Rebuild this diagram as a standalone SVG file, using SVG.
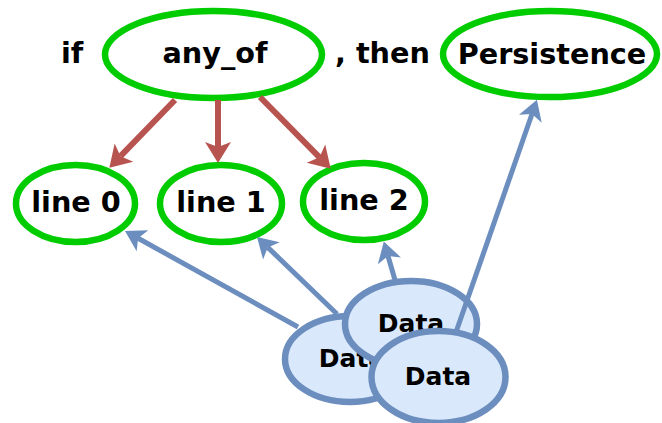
<svg xmlns="http://www.w3.org/2000/svg" width="662" height="423" viewBox="0 0 662 423">
  <style>
    .t { font-family: "DejaVu Sans", Verdana, sans-serif; font-weight: bold; fill: #000; }
    .big { font-size: 28.7px; }
    .sm { font-size: 25px; }
    .g { fill: #ffffff; stroke: #00cc00; stroke-width: 6.5; }
    .d { fill: #dae8fc; stroke: #6c8ebf; stroke-width: 6.5; }
    .red { fill: none; stroke: #b85450; stroke-width: 6; marker-end: url(#ahRed); }
    .blue { fill: none; stroke: #6c8ebf; stroke-width: 5; marker-end: url(#ahBlue); }
  </style>
  <defs>
    <marker id="ahRed" markerUnits="userSpaceOnUse" markerWidth="26" markerHeight="28" viewBox="0 -14 24 28" refX="5" refY="0" orient="auto">
      <path d="M0,-13 L21,0 L0,13 L5,0 Z" fill="#b85450"/>
    </marker>
    <marker id="ahBlue" markerUnits="userSpaceOnUse" markerWidth="26" markerHeight="28" viewBox="0 -14 24 28" refX="5" refY="0" orient="auto">
      <path d="M0,-12 L20,0 L0,12 L5,0 Z" fill="#6c8ebf"/>
    </marker>
  </defs>

  <rect width="662" height="423" fill="#ffffff"/>

  <text class="t big" x="61" y="63">if</text>
  <text class="t big" x="335" y="63">, then</text>

  <g id="any_of">
    <ellipse class="g" cx="213.5" cy="54.5" rx="108.5" ry="43.5"/>
    <text class="t big" x="215" y="63" text-anchor="middle">any_of</text>
  </g>
  <g id="persistence">
    <ellipse class="g" cx="550" cy="54" rx="107" ry="43"/>
    <text class="t big" x="552" y="64" text-anchor="middle">Persistence</text>
  </g>
  <g id="line0">
    <ellipse class="g" cx="75.5" cy="203.5" rx="59.5" ry="38.5"/>
    <text class="t big" x="76" y="212" text-anchor="middle">line 0</text>
  </g>
  <g id="line1">
    <ellipse class="g" cx="221" cy="203.5" rx="61" ry="38.5"/>
    <text class="t big" x="221" y="212" text-anchor="middle">line 1</text>
  </g>
  <g id="line2">
    <ellipse class="g" cx="364" cy="201.5" rx="61" ry="38.5"/>
    <text class="t big" x="364" y="210" text-anchor="middle">line 2</text>
  </g>

  <g id="data_left">
    <ellipse class="d" cx="350" cy="359" rx="65" ry="43"/>
    <text class="t sm" x="352" y="367" text-anchor="middle">Data</text>
  </g>
  <g id="data_mid">
    <ellipse class="d" cx="411" cy="324" rx="66" ry="43"/>
    <text class="t sm" x="411" y="332" text-anchor="middle">Data</text>
  </g>

  <g id="connectors">
    <path class="red" d="M175,100 L120.5,156.2"/>
    <path class="red" d="M218,100 L218,147"/>
    <path class="red" d="M260,97 L319.5,157.3"/>
    <path class="blue" d="M298,327 L138.1,238.3"/>
    <path class="blue" d="M337,314 L267.8,247.4"/>
    <path class="blue" d="M395,280 L388,256"/>
    <path class="blue" d="M455,335 L532,114"/>
  </g>

  <g id="data_front">
    <ellipse class="d" cx="438.5" cy="377" rx="67" ry="46"/>
    <text class="t sm" x="438" y="385" text-anchor="middle">Data</text>
  </g>
</svg>
